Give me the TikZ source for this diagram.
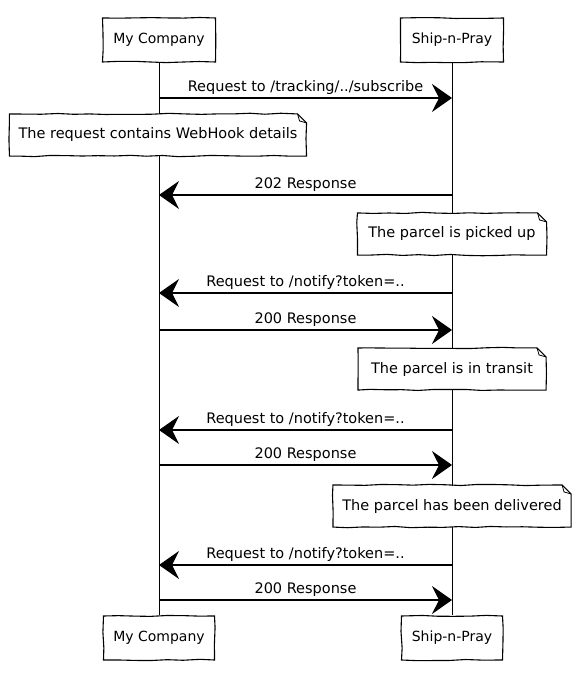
\documentclass[tikz,border=0pt]{standalone}
\usepackage{fontspec}
\setmainfont{DejaVu Sans}
\usetikzlibrary{calc,arrows.meta,decorations.pathmorphing}

\begin{document}
\begin{tikzpicture}[x=1pt,y=-1pt,line width=1.1pt,
  sketch/.style={decorate,decoration={random steps,segment length=16pt,amplitude=0.7pt}},
  actor/.style={draw,sketch,minimum height=44pt,font=\fontsize{14}{16}\selectfont},
  msg/.style={-{Stealth[length=20pt,width=28pt,inset=7pt]}},
  lbl/.style={above=0pt,font=\fontsize{14.5}{16}\selectfont},
  note/.style={fill=white,minimum height=41pt,font=\fontsize{14.5}{16}\selectfont}]
  \useasboundingbox (0,0) rectangle (580,684);

  % participants
  \node[actor,minimum width=113pt] (topA) at (159,40) {My Company};
  \node[actor,minimum width=103pt] (topB) at (452,40) {Ship-n-Pray};
  \node[actor,minimum width=111pt] (botA) at (159,638) {My Company};
  \node[actor,minimum width=101pt] (botB) at (452,638) {Ship-n-Pray};
  \draw[line width=0.8pt] (topA) -- (botA);
  \draw[line width=0.8pt] (topB) -- (botB);

  % message ends on the lifelines
  \coordinate (A1) at (159,98);  \coordinate (B1) at (452,98);
  \coordinate (A2) at (159,195); \coordinate (B2) at (452,195);
  \coordinate (A3) at (159,293); \coordinate (B3) at (452,293);
  \coordinate (A4) at (159,330); \coordinate (B4) at (452,330);
  \coordinate (A5) at (159,430); \coordinate (B5) at (452,430);
  \coordinate (A6) at (159,465); \coordinate (B6) at (452,465);
  \coordinate (A7) at (159,565); \coordinate (B7) at (452,565);
  \coordinate (A8) at (159,600); \coordinate (B8) at (452,600);

  \draw[msg] (A1) -- (B1) node[midway,lbl]{Request to /tracking/../subscribe};
  \draw[msg] (B2) -- (A2) node[midway,lbl]{202 Response};
  \draw[msg] (B3) -- (A3) node[midway,lbl]{Request to /notify?token=..};
  \draw[msg] (A4) -- (B4) node[midway,lbl]{200 Response};
  \draw[msg] (B5) -- (A5) node[midway,lbl]{Request to /notify?token=..};
  \draw[msg] (A6) -- (B6) node[midway,lbl]{200 Response};
  \draw[msg] (B7) -- (A7) node[midway,lbl]{Request to /notify?token=..};
  \draw[msg] (A8) -- (B8) node[midway,lbl]{200 Response};

  % notes
  \node[note,minimum width=296pt] (n1) at (158,135) {The request contains WebHook details};
  \node[note,minimum width=188pt] (n2) at (452,234) {The parcel is picked up};
  \node[note,minimum width=187pt] (n3) at (452,369) {The parcel is in transit};
  \node[note,minimum width=237pt] (n4) at (452,506) {The parcel has been delivered};
  \draw[sketch] (n1.north west) -- ($(n1.north east)+(-9,0)$) -- ($(n1.north east)+(0,9)$) -- (n1.south east) -- (n1.south west) -- cycle;
  \draw[line width=0.8pt] ($(n1.north east)+(-9,0)$) -- ++(2,7) -- ++(7,2);
  \draw[sketch] (n2.north west) -- ($(n2.north east)+(-9,0)$) -- ($(n2.north east)+(0,9)$) -- (n2.south east) -- (n2.south west) -- cycle;
  \draw[line width=0.8pt] ($(n2.north east)+(-9,0)$) -- ++(2,7) -- ++(7,2);
  \draw[sketch] (n3.north west) -- ($(n3.north east)+(-9,0)$) -- ($(n3.north east)+(0,9)$) -- (n3.south east) -- (n3.south west) -- cycle;
  \draw[line width=0.8pt] ($(n3.north east)+(-9,0)$) -- ++(2,7) -- ++(7,2);
  \draw[sketch] (n4.north west) -- ($(n4.north east)+(-9,0)$) -- ($(n4.north east)+(0,9)$) -- (n4.south east) -- (n4.south west) -- cycle;
  \draw[line width=0.8pt] ($(n4.north east)+(-9,0)$) -- ++(2,7) -- ++(7,2);
\end{tikzpicture}
\end{document}
